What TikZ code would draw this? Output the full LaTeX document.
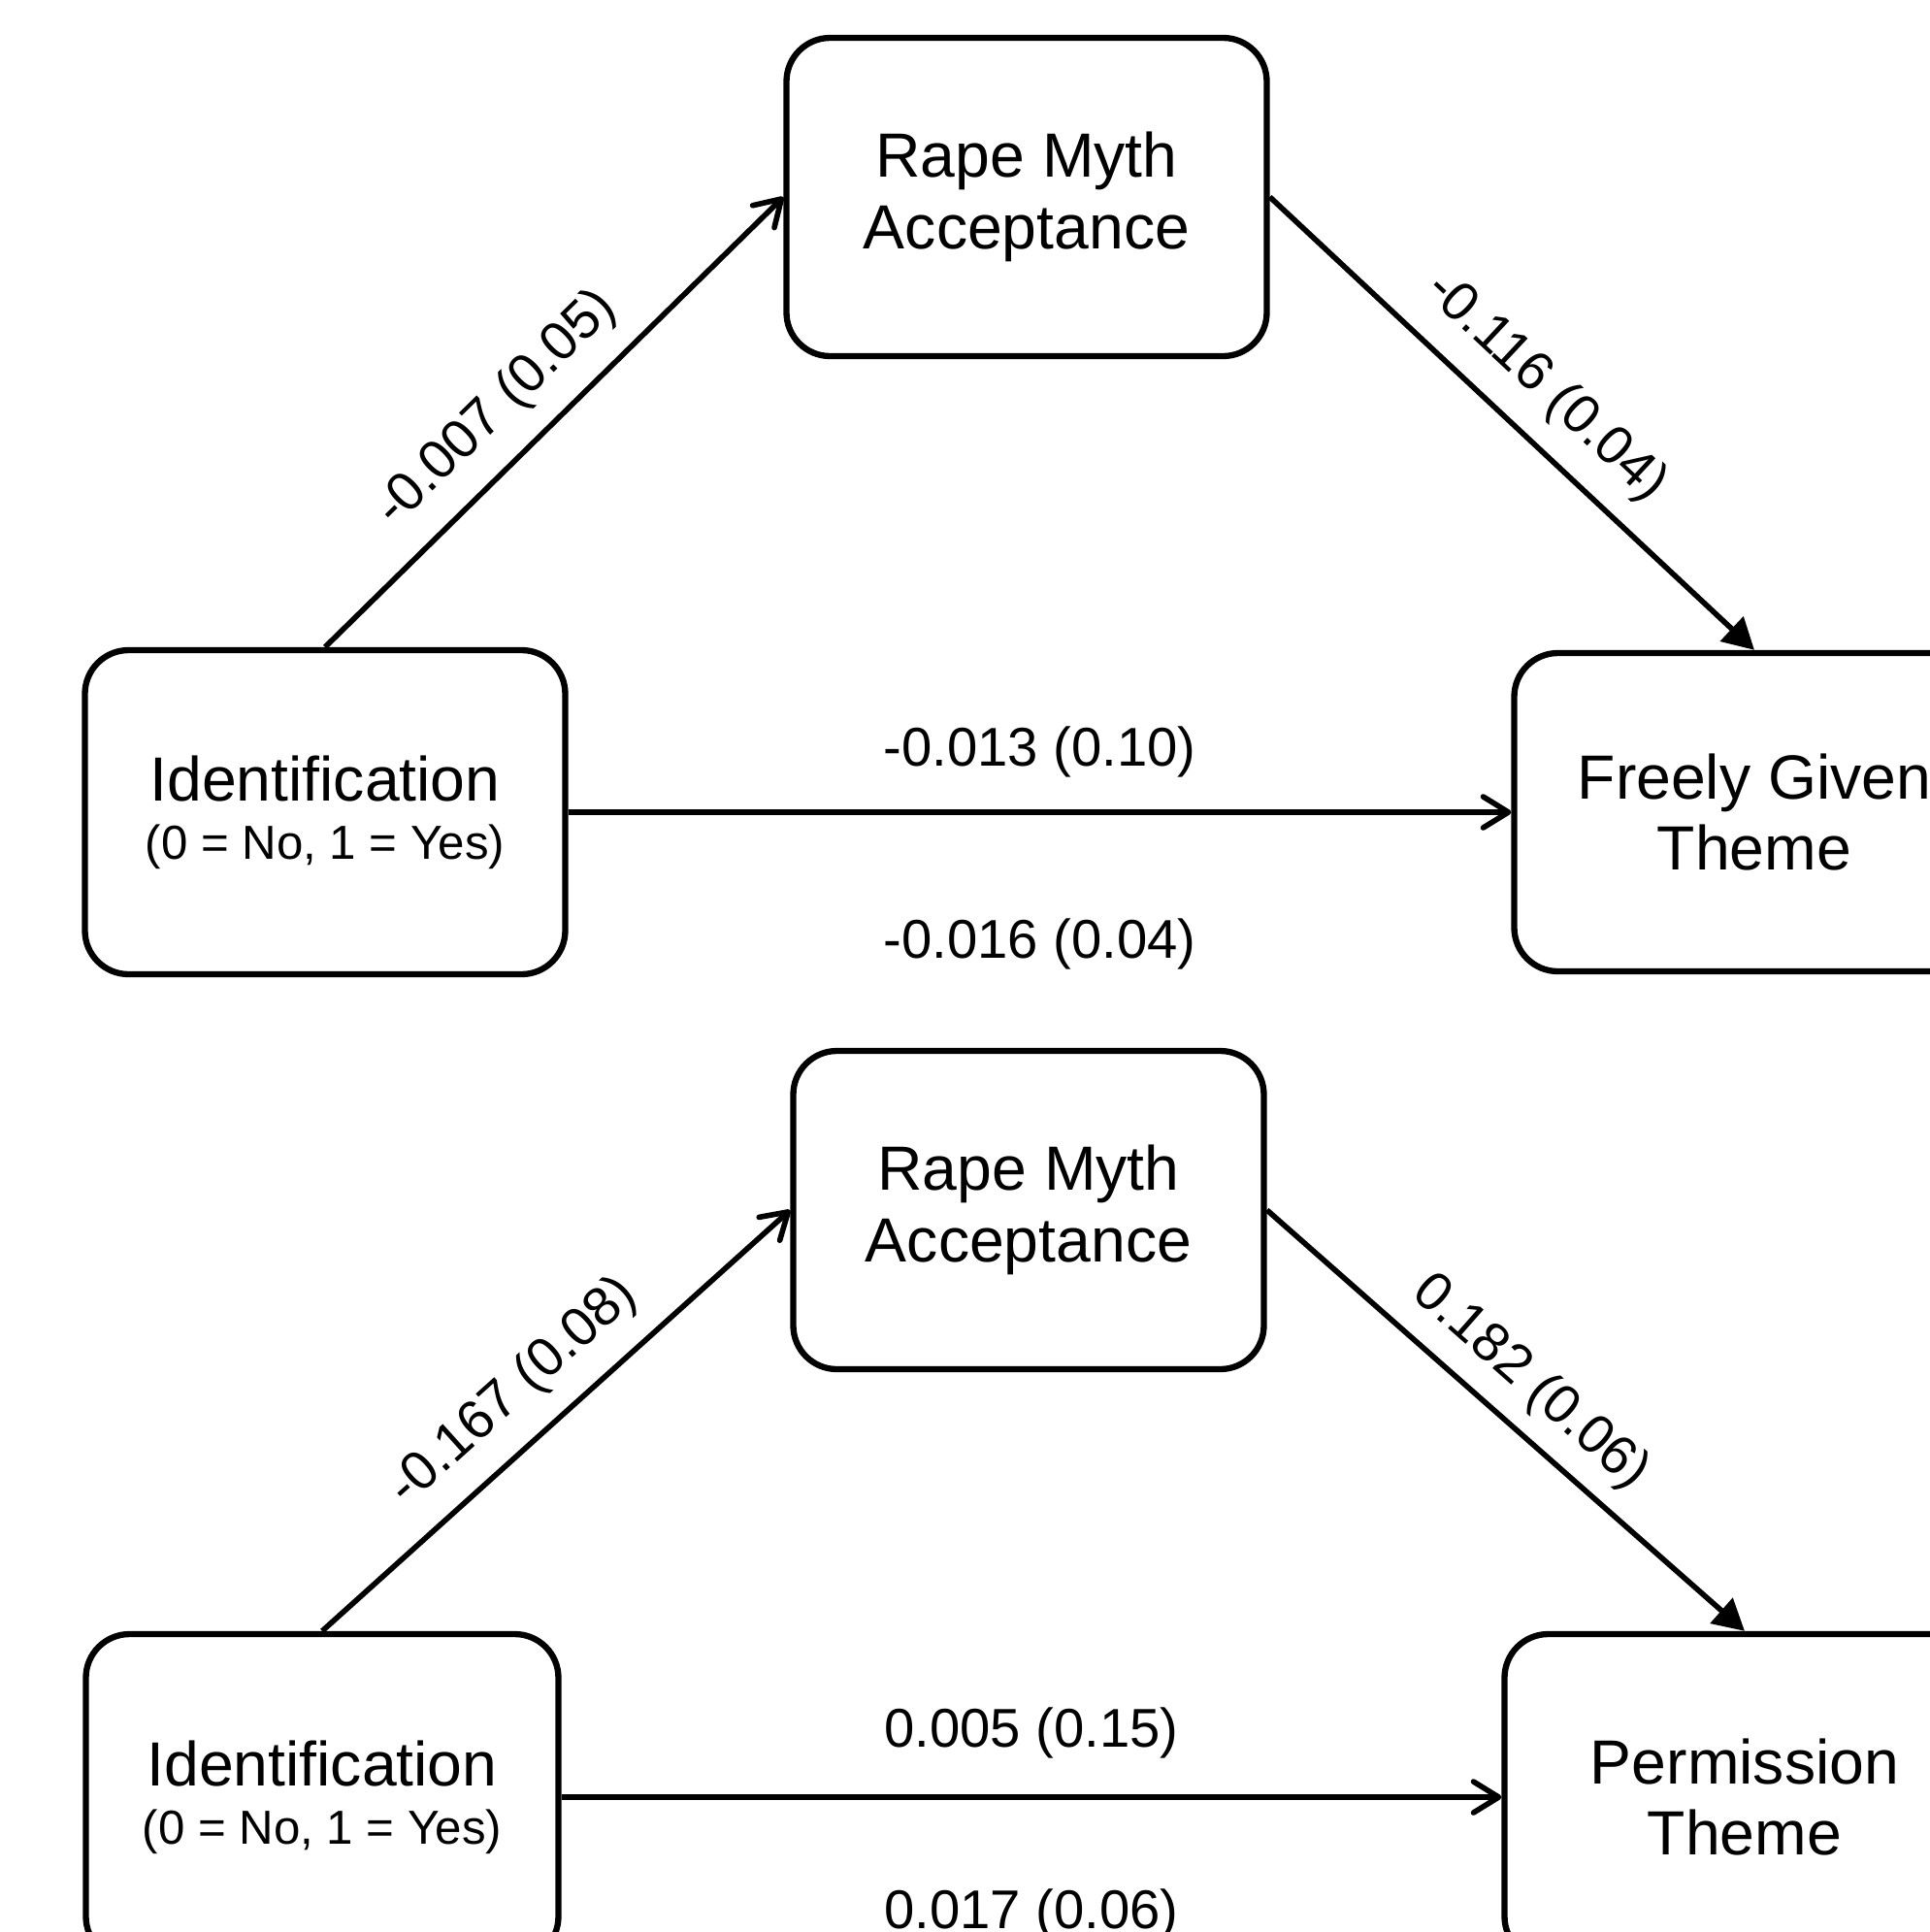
\documentclass[tikz,border=0pt]{standalone}
\usepackage{fontspec}
\setmainfont{Liberation Sans}
\usetikzlibrary{arrows.meta}
\newcommand{\boxfont}{\fontsize{18.3}{21}\selectfont}
\newcommand{\subfont}{\fontsize{14}{16}\selectfont}
\newcommand{\labfont}{\fontsize{16}{19}\selectfont}
\tikzset{
  box/.style={draw=black, line width=1.8pt, rounded corners=0.45cm, minimum width=4.95cm, minimum height=3.28cm, align=center, font=\boxfont},
  link/.style={draw=black, line width=1.6pt, -{Straight Barb[length=2.6mm,width=3.2mm,round]}},
  linkt/.style={draw=black, line width=1.6pt, -{Triangle[length=3.2mm,width=3.4mm]}},
  lab/.style={font=\labfont, inner sep=0pt},
}
\begin{document}
\begin{tikzpicture}
  \useasboundingbox (0,0) rectangle (19.89,-19.91);
  \clip (0,0) rectangle (19.89,-19.91);
  % upper model: freely given theme
  \node[box] (rma1) at (10.58,-2.03) {Rape Myth\\Acceptance};
  \node[box, minimum height=3.34cm] (id1) at (3.35,-8.37) {Identification\\[-4pt]{\subfont (0 = No, 1 = Yes)}};
  \node[box] (fg) at (18.08,-8.37) {Freely Given\\Theme};
  \draw[link] (id1.north) -- (rma1.west) node[lab, sloped, above=0.22cm, pos=0.45] (a1) {-0.007 (0.05)};
  \draw[linkt] (rma1.east) -- (fg.north) node[lab, sloped, above=0.22cm, midway] (b1) {-0.116 (0.04)};
  \draw[link] (id1.east) -- (fg.west) node[lab, above=0.33cm, midway] (c1) {-0.013 (0.10)}
    node[lab, below=1.07cm, midway] (d1) {-0.016 (0.04)};
  % lower model: permission theme
  \node[box, minimum width=4.85cm] (rma2) at (10.60,-12.47) {Rape Myth\\Acceptance};
  \node[box, minimum width=4.87cm, minimum height=3.36cm] (id2) at (3.32,-18.52) {Identification\\[-4pt]{\subfont (0 = No, 1 = Yes)}};
  \node[box, minimum height=3.36cm] (pt) at (17.98,-18.52) {Permission\\Theme};
  \draw[link] (id2.north) -- (rma2.west) node[lab, sloped, above=0.22cm, pos=0.48] (a2) {-0.167 (0.08)};
  \draw[linkt] (rma2.east) -- (pt.north) node[lab, sloped, above=0.17cm, pos=0.49] (b2) {0.182 (0.06)};
  \draw[link] (id2.east) -- (pt.west) node[lab, above=0.37cm, midway] (c2) {0.005 (0.15)}
    node[lab, below=0.92cm, midway] (d2) {0.017 (0.06)};
\end{tikzpicture}
\end{document}
